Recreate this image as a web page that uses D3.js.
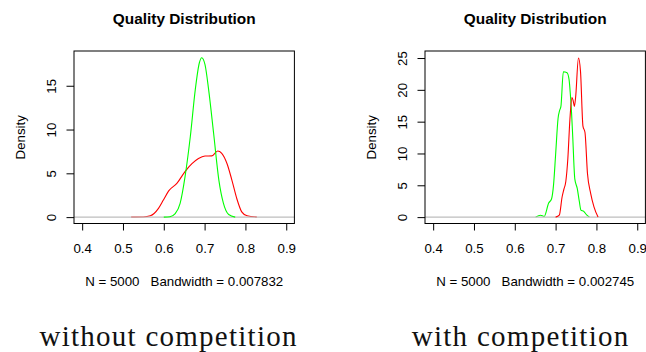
<!DOCTYPE html>
<html>
<head>
<meta charset="utf-8">
<script src="https://cdn.jsdelivr.net/npm/d3@7"></script>
<style>
  body { margin: 0; background: #fff; }
  svg { display: block; }
  text { font-family: "Liberation Sans", Arial, sans-serif; }
</style>
</head>
<body>
<div id="chart"></div>
<script>
// tick labels
const xTicks = [0.4, 0.5, 0.6, 0.7, 0.8, 0.9];
const yTicksNoComp = [0, 5, 10, 15];
const yTicksComp = [0, 5, 10, 15, 20, 25];

// without competition
const noCompRedX = [0.52, 0.55, 0.567, 0.587, 0.599, 0.612, 0.632, 0.652, 0.669, 0.685, 0.701, 0.718, 0.732, 0.742, 0.755, 0.767, 0.779, 0.791, 0.804, 0.828];
const noCompRedY = [0, 0.02, 0.15, 1.0, 1.95, 3.0, 3.85, 5.2, 6.1, 6.7, 6.98, 6.99, 7.55, 7.29, 6.1, 4.2, 2.1, 0.6, 0.15, 0];
const noCompGreenX = [0.60, 0.615, 0.628, 0.640, 0.652, 0.665, 0.677, 0.687, 0.693, 0.701, 0.710, 0.722, 0.735, 0.746, 0.759, 0.775];
const noCompGreenY = [0, 0.05, 0.4, 1.57, 4.6, 9.2, 14.5, 17.6, 18.2, 17.4, 14.5, 9.6, 4.2, 1.6, 0.3, 0];

// with competition
const compRedX = [0.700, 0.709, 0.716, 0.720, 0.725, 0.730, 0.735, 0.740, 0.743, 0.746, 0.749, 0.756, 0.761, 0.767, 0.772, 0.778, 0.786, 0.794, 0.804];
const compRedY = [0, 0.3, 3.2, 4.3, 5.6, 9.2, 15.3, 18.8, 18.3, 17.4, 18.8, 25.0, 22.9, 14.3, 13.3, 6.9, 3.7, 1.6, 0];
const compGreenX = [0.651, 0.663, 0.672, 0.683, 0.690, 0.695, 0.700, 0.706, 0.710, 0.713, 0.719, 0.728, 0.733, 0.736, 0.739, 0.742, 0.747, 0.753, 0.758, 0.762, 0.769, 0.776, 0.783];
const compGreenY = [0, 0.3, 0.1, 2.2, 2.85, 5.1, 9.8, 15.5, 16.8, 17.4, 22.85, 22.7, 21.6, 19.4, 16.5, 12.6, 6.0, 4.5, 2.5, 1.1, 0.9, 0.35, 0];

const titleText = 'Quality Distribution';
const bwNoComp = 'N = 5000   Bandwidth = 0.007832';
const bwComp = 'N = 5000   Bandwidth = 0.002745';
const captions = ['without competition', 'with competition'];

const width = 646, height = 352;
const svg = d3.select('#chart').append('svg')
  .attr('width', width).attr('height', height);
svg.append('rect').attr('width', width).attr('height', height).attr('fill', '#fff');

const zip = (xs, ys) => xs.map((x, i) => [x, ys[i]]);

function panel(left, yMax, yTicks, series, subText) {
  const box = { left: left, right: left + 220.4, top: 51, bottom: 223.5 };
  const x = d3.scaleLinear().domain([0.38, 0.92]).range([box.left, box.right]);
  const y = d3.scaleLinear().domain([-0.04 * yMax, 1.04 * yMax]).range([box.bottom, box.top]);
  const g = svg.append('g');

  const line = d3.line().x(d => x(d[0])).y(d => y(d[1])).curve(d3.curveMonotoneX);
  const drawCurve = s => g.append('path')
    .attr('d', line(s.points))
    .attr('fill', 'none')
    .attr('stroke', s.color)
    .attr('stroke-width', 1.1)
    .attr('stroke-linejoin', 'round');

  // first density, then the zero line over it, then the second density
  drawCurve(series[0]);
  g.append('line')
    .attr('x1', box.left).attr('x2', box.right)
    .attr('y1', y(0)).attr('y2', y(0))
    .attr('stroke', '#bebebe').attr('stroke-width', 1.2);
  drawCurve(series[1]);

  // box
  g.append('rect')
    .attr('x', box.left).attr('y', box.top)
    .attr('width', box.right - box.left).attr('height', box.bottom - box.top)
    .attr('fill', 'none').attr('stroke', '#000').attr('stroke-width', 1);

  const xAxis = g.append('g')
    .attr('transform', `translate(0,${box.bottom})`)
    .call(d3.axisBottom(x).tickValues(xTicks).tickSize(7).tickSizeOuter(0).tickPadding(12.8)
      .tickFormat(d3.format('.1f')));
  xAxis.select('.domain').remove();
  xAxis.selectAll('text').style('font-size', '13.3px').attr('fill', '#000');

  const yAxis = g.append('g')
    .attr('transform', `translate(${box.left},0)`)
    .call(d3.axisLeft(y).tickValues(yTicks).tickSize(7.5).tickSizeOuter(0));
  yAxis.select('.domain').remove();
  yAxis.selectAll('text')
    .attr('x', null).attr('dy', null)
    .attr('transform', 'translate(-18.5,0) rotate(-90)')
    .attr('text-anchor', 'middle')
    .style('font-size', '13.3px').attr('fill', '#000');

  const cx = (box.left + box.right) / 2;
  g.append('text')
    .attr('x', cx).attr('y', 24)
    .attr('text-anchor', 'middle')
    .style('font-size', '15.4px').style('font-weight', 'bold')
    .text(titleText);

  g.append('text')
    .attr('transform', `translate(${box.left - 49.5},${(box.top + box.bottom) / 2}) rotate(-90)`)
    .attr('text-anchor', 'middle')
    .style('font-size', '13.3px')
    .text('Density');

  g.append('text')
    .attr('x', cx).attr('y', 285.7)
    .attr('text-anchor', 'middle')
    .style('white-space', 'pre')
    .style('font-size', '13.3px')
    .text(subText);
}

panel(74, 18.24, yTicksNoComp, [
  { color: '#ff0000', points: zip(noCompRedX, noCompRedY) },
  { color: '#00ff00', points: zip(noCompGreenX, noCompGreenY) }
], bwNoComp);

panel(425, 25.1, yTicksComp, [
  { color: '#00ff00', points: zip(compGreenX, compGreenY) },
  { color: '#ff0000', points: zip(compRedX, compRedY) }
], bwComp);

// captions under the panels
const capPos = [{ cx: 168, w: 257 }, { cx: 520, w: 216.7 }];
captions.forEach((c, i) => {
  svg.append('text')
    .attr('x', capPos[i].cx - capPos[i].w / 2).attr('y', 345.7)
    .attr('textLength', capPos[i].w)
    .attr('lengthAdjust', 'spacing')
    .style('font-family', '"Liberation Serif", "Times New Roman", serif')
    .style('font-size', '29px')
    .attr('fill', '#111')
    .text(c);
});
</script>
</body>
</html>
